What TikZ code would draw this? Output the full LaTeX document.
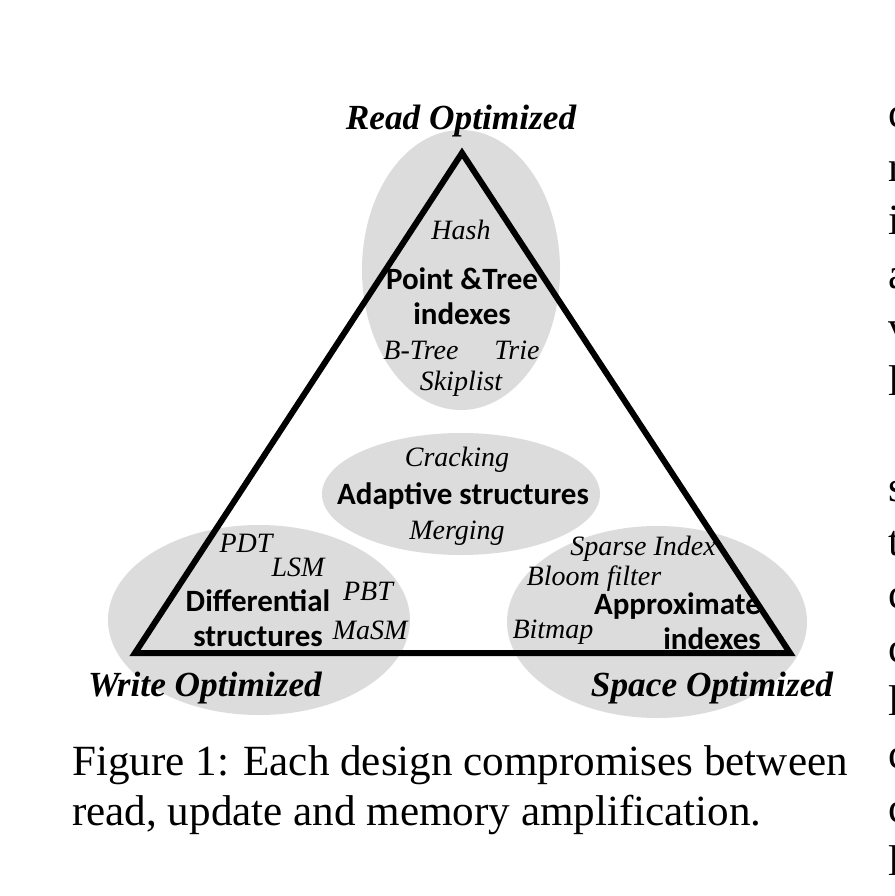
\documentclass[tikz,border=0pt]{standalone}
\usepackage{fontspec}
\setmainfont{Liberation Serif}
\newfontfamily\catfont{Carlito}
\usetikzlibrary{shapes.geometric}
\definecolor{blobgray}{RGB}{220,220,220}
\begin{document}
\begin{tikzpicture}[x=1pt,y=-1pt,
  blob/.style={ellipse, fill=blobgray, draw=none, inner sep=0},
  frame/.style={line width=6pt, line join=miter},
  ex/.style={font=\fontsize{28}{30}\selectfont\itshape, inner sep=0},
  cat/.style={font=\fontsize{31}{35}\selectfont\catfont\bfseries, inner sep=0, align=center},
  corner/.style={font=\fontsize{35.3}{38}\selectfont\bfseries\itshape, inner sep=0},
  captext/.style={font=\fontsize{43.1}{50}\selectfont, inner sep=0, anchor=base west},
  bodytext/.style={font=\fontsize{43}{50}\selectfont, inner sep=0, anchor=base west}]
\useasboundingbox (0,0) rectangle (894,896);
\fill[white] (0,0) rectangle (894,896);

% shaded regions of the design space
\node[blob, minimum width=198pt, minimum height=280pt] (readblob) at (461,270) {};
\node[blob, minimum width=278pt, minimum height=122pt] (adaptblob) at (461,494) {};
\node[blob, minimum width=302pt, minimum height=190pt] (writeblob) at (259,620) {};
\node[blob, minimum width=300pt, minimum height=192pt] (spaceblob) at (657,622) {};

% the trade-off triangle
\coordinate (top) at (462,153);
\coordinate (bl) at (135,653);
\coordinate (br) at (790,653);
\draw[frame] (top) -- (bl) -- (br) -- cycle;

% corner labels
\node[corner] (readlbl) at (461,121) {Read Optimized};
\node[corner] (writelbl) at (205,688) {Write Optimized};
\node[corner] (spacelbl) at (712,688) {Space Optimized};

% point and tree indexes
\node[ex] (hash) at (461,230) {Hash};
\node[cat] (pti) at (462,296) {Point \&Tree\\indexes};
\node[ex] (btree) at (421,350) {B-Tree};
\node[ex] (trie) at (517,350) {Trie};
\node[ex] (skip) at (461,384) {Skiplist};

% adaptive structures
\node[ex] (crack) at (457,460) {Cracking};
\node[cat] (adapt) at (463,496) {Adaptive structures};
\node[ex] (merge) at (457,533) {Merging};

% differential structures
\node[ex] (pdt) at (246,543) {PDT};
\node[ex] (lsm) at (298,567) {LSM};
\node[ex] (pbt) at (368,591) {PBT};
\node[ex] (masm) at (370,630) {MaSM};
\node[cat] (diff) at (258,618) {Differential\\structures};

% approximate indexes
\node[ex] (sparse) at (643,549) {Sparse Index};
\node[ex] (bloom) at (594,579) {Bloom filter};
\node[ex] (bitmap) at (553,632) {Bitmap};
\node[cat, align=right, anchor=east] (approx) at (761,621) {Approximate\\indexes};

% caption
\node[captext] (cap1) at (72,775) {Figure 1: Each design compromises between};
\node[captext] (cap2) at (72,825) {read, update and memory amplification.};

% neighbouring column, cut off at the page edge
\begin{scope}
\clip (860,0) rectangle (894,896);
\foreach \ch [count=\i from 0] in {c,r,i,a,v,l,{},s,t,c,c,l,c,c,l}
  \node[bodytext] at (888,128+53.4*\i) {\ch};
\end{scope}
\end{tikzpicture}
\end{document}
